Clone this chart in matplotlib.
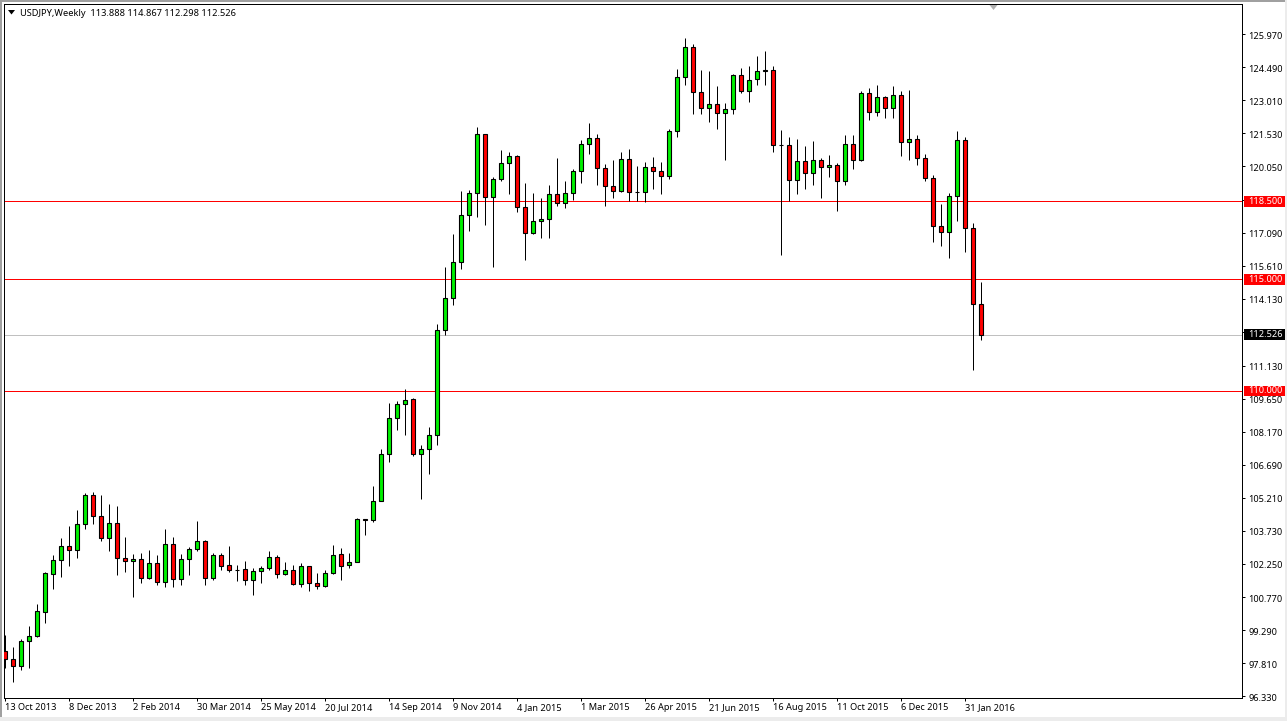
import matplotlib
matplotlib.use("Agg")
import matplotlib.pyplot as plt
from matplotlib.patches import Rectangle
from matplotlib.transforms import ScaledTranslation

W, H = 1287, 721

# weekly USDJPY candles
opens = [98.35, 97.99, 97.66, 98.80, 99.02, 100.12, 101.82, 102.42, 103.05, 102.87,
         104.03, 105.33, 104.39, 103.41, 104.08, 102.51, 102.38, 102.47, 101.62, 102.29,
         101.44, 103.14, 101.57, 102.47, 102.91, 103.27, 101.62, 102.65, 102.20, 102.00,
         102.02, 101.53, 101.93, 102.06, 102.56, 101.80, 101.97, 101.35, 102.15, 101.39,
         101.26, 101.84, 102.69, 102.20, 102.33, 104.26, 104.21, 105.07, 107.17, 108.78,
         109.41, 109.63, 107.17, 107.39, 108.02, 112.72, 114.15, 115.77, 117.87, 118.86,
         121.50, 118.68, 119.48, 120.20, 120.51, 118.23, 117.07, 117.60, 117.69, 118.81,
         118.41, 118.86, 119.84, 121.05, 121.32, 119.98, 119.17, 118.95, 120.38, 118.90,
         118.90, 120.02, 119.84, 119.62, 121.63, 124.05, 125.39, 123.38, 122.66, 122.84,
         122.44, 122.62, 124.14, 123.42, 123.95, 124.32, 124.36, 121.01, 121.01, 119.44,
         120.29, 119.74, 120.33, 120.02, 120.11, 119.39, 121.05, 120.33, 123.33, 122.48,
         123.16, 122.66, 123.24, 121.14, 121.27, 120.42, 119.53, 117.38, 117.11, 118.72,
         121.23, 117.29, 113.888]
highs = [99.08, 98.54, 98.88, 99.48, 100.47, 101.87, 102.65, 103.42, 103.96, 104.68,
         105.42, 105.47, 105.35, 104.94, 104.85, 103.47, 102.69, 102.75, 102.88, 102.66,
         103.80, 103.47, 102.69, 103.00, 104.18, 103.32, 102.74, 102.74, 103.06, 102.20,
         102.38, 102.06, 102.15, 102.84, 102.65, 102.35, 102.20, 102.29, 102.15, 101.84,
         101.97, 103.09, 102.96, 102.75, 104.32, 104.26, 105.75, 107.39, 109.45, 109.56,
         110.08, 109.68, 107.57, 108.38, 112.99, 115.56, 117.04, 118.96, 119.01, 121.83,
         121.50, 119.57, 120.78, 120.69, 120.57, 119.32, 118.87, 118.63, 119.21, 120.44,
         119.41, 119.93, 121.23, 122.01, 121.50, 120.16, 120.35, 120.69, 120.84, 120.08,
         120.24, 120.48, 120.26, 121.72, 124.41, 125.80, 125.53, 124.38, 124.32, 123.66,
         122.89, 124.18, 124.45, 124.54, 124.99, 125.21, 124.54, 121.69, 121.36, 121.29,
         120.98, 121.18, 120.42, 120.56, 120.20, 121.45, 121.45, 123.42, 123.56, 123.69,
         123.21, 123.65, 123.42, 123.47, 121.45, 120.60, 119.66, 118.36, 118.86, 121.63,
         121.36, 117.51, 114.867]
lows = [97.57, 96.97, 97.48, 97.60, 98.97, 99.59, 101.15, 101.65, 102.14, 102.50,
        103.80, 104.06, 103.26, 102.85, 101.74, 101.87, 100.75, 101.42, 101.56, 101.30,
        101.21, 101.24, 101.30, 101.74, 102.81, 101.33, 101.53, 101.97, 101.87, 101.47,
        101.33, 100.84, 101.42, 101.96, 101.60, 101.75, 101.30, 101.24, 101.06, 101.11,
        101.21, 101.78, 101.51, 102.05, 102.33, 103.56, 104.11, 105.05, 106.80, 108.23,
        108.01, 107.07, 105.18, 106.26, 107.60, 112.51, 113.83, 115.44, 117.18, 117.81,
        117.41, 115.53, 119.42, 118.84, 117.99, 115.84, 117.01, 116.83, 116.83, 118.30,
        118.21, 118.57, 119.33, 120.59, 119.24, 118.30, 118.66, 118.89, 118.50, 118.50,
        118.44, 119.02, 118.84, 119.47, 121.39, 123.68, 122.42, 122.38, 122.02, 121.71,
        120.36, 122.42, 123.36, 122.96, 123.72, 123.72, 120.68, 116.07, 118.50, 118.80,
        119.02, 119.20, 118.62, 119.60, 118.04, 119.20, 119.92, 120.29, 122.11, 122.33,
        122.20, 122.24, 120.54, 120.32, 120.10, 119.42, 116.66, 116.47, 115.93, 117.63,
        116.24, 110.94, 112.298]
closes = [97.99, 97.66, 98.80, 99.02, 100.14, 101.84, 102.42, 103.05, 102.87, 104.03,
          105.33, 104.39, 103.41, 104.08, 102.51, 102.38, 102.47, 101.62, 102.29, 101.44,
          103.14, 101.57, 102.47, 102.91, 103.27, 101.62, 102.65, 102.15, 101.97, 101.97,
          101.53, 101.93, 102.06, 102.56, 101.80, 101.97, 101.35, 102.15, 101.39, 101.26,
          101.84, 102.65, 102.15, 102.33, 104.26, 104.20, 105.06, 107.17, 108.78, 109.41,
          109.59, 107.17, 107.39, 108.02, 112.72, 114.15, 115.77, 117.87, 118.86, 121.50,
          118.68, 119.48, 120.20, 120.51, 118.23, 117.07, 117.60, 117.69, 118.81, 118.41,
          118.86, 119.84, 121.05, 121.32, 119.98, 119.17, 118.95, 120.38, 118.90, 118.89,
          120.02, 119.84, 119.62, 121.63, 124.05, 125.39, 123.38, 122.66, 122.84, 122.44,
          122.62, 124.14, 123.42, 123.92, 124.32, 124.35, 120.99, 120.99, 119.44, 120.29,
          119.74, 120.33, 120.02, 120.11, 119.39, 121.05, 120.33, 123.33, 122.48, 123.16,
          122.66, 123.24, 121.14, 121.27, 120.42, 119.53, 117.38, 117.11, 118.72, 121.23,
          117.29, 113.888, 112.526]

date_labels = ["13 Oct 2013", "8 Dec 2013", "2 Feb 2014", "30 Mar 2014", "25 May 2014",
               "20 Jul 2014", "14 Sep 2014", "9 Nov 2014", "4 Jan 2015", "1 Mar 2015",
               "26 Apr 2015", "21 Jun 2015", "16 Aug 2015", "11 Oct 2015", "6 Dec 2015",
               "31 Jan 2016"]
price_ticks = [125.97, 124.49, 123.01, 121.53, 120.05, 118.57, 117.09, 115.61, 114.13,
               112.65, 111.13, 109.65, 108.17, 106.69, 105.21, 103.73, 102.25, 100.77,
               99.29, 97.81, 96.33]
level_lines = [118.5, 115.0, 110.0]
last_price = 112.526

FONT = "Noto Sans"
FS = 6.6
px = 0.72  # one pixel in points at dpi 100

fig = plt.figure(figsize=(W / 100, H / 100), dpi=100, facecolor="white")

# plot frame, placed in pixels
left, right, top, bottom = 4.3, 1242.3, 4.3, 698.0
ax = fig.add_axes([left / W, 1 - bottom / H, (right - left) / W, (bottom - top) / H])
ax.set_xlim(-0.125, 154.625)
ax.set_ylim(96.248, 127.313)

xs = list(range(len(opens)))

for level in level_lines:
    ax.axhline(level, color="#ff0000", lw=px, zorder=1)
ax.axhline(last_price, color="#c0c0c0", lw=px, zorder=1)

# candles
ax.vlines(xs, lows, highs, color="black", lw=px, zorder=2)
body_colors = ["#00f000" if c >= o else "#ff0000" for o, c in zip(opens, closes)]
body_bottom = [min(o, c) for o, c in zip(opens, closes)]
body_height = [abs(o - c) for o, c in zip(opens, closes)]
ax.bar(xs, body_height, bottom=body_bottom, width=0.46, color=body_colors,
       edgecolor="black", linewidth=1.1 * px, zorder=3)

# axes
for side in ax.spines:
    ax.spines[side].set_linewidth(px)
ax.yaxis.tick_right()
ax.set_yticks(price_ticks)
ax.set_yticklabels(["%.3f" % p for p in price_ticks], fontsize=FS, family=FONT)
ax.set_xticks(xs[::8])
ax.set_xticklabels(date_labels, fontsize=FS, family=FONT, ha="left")
ax.tick_params(axis="both", length=3 * px, width=px, color="black", labelcolor="black")
ax.tick_params(axis="y", pad=2.3)
ax.tick_params(axis="x", pad=1.5)

# scale labels sit a pixel lower than the default centring
nudge = ScaledTranslation(0, -1 / 100, fig.dpi_scale_trans)
for label in ax.get_yticklabels():
    label.set_transform(label.get_transform() + nudge)

# price labels on the scale
yaxis_tf = ax.get_yaxis_transform()
def price_tag(price, fc):
    ax.add_patch(Rectangle((1.0015, price - 0.25), 0.0331, 0.49, transform=yaxis_tf,
                           fc=fc, ec="none", clip_on=False, zorder=5))
    ax.text(1.0048, price, "%.3f" % price, transform=yaxis_tf, color="white", fontsize=FS,
            family=FONT, va="center", ha="left", clip_on=False, zorder=6)

for level in level_lines:
    price_tag(level, "#ff0000")
price_tag(last_price, "black")

# header
fig.text(20 / W, 1 - 13 / H, "USDJPY,Weekly  113.888 114.867 112.298 112.526",
         fontsize=6.66, family=FONT, color="black", va="center", ha="left")
fig.patches.append(plt.Polygon([(8 / W, 1 - 10 / H), (15 / W, 1 - 10 / H), (11.5 / W, 1 - 14.5 / H)],
                               transform=fig.transFigure, fc="black", ec="none"))
# chart shift marker
fig.patches.append(plt.Polygon([(989.5 / W, 1 - 5 / H), (997.5 / W, 1 - 5 / H), (993.5 / W, 1 - 10 / H)],
                               transform=fig.transFigure, fc="#b0b0b0", ec="none"))

# window edges
for x0, y0, w, h, c in [(0, 0, W, 2, "#a0a0a0"), (0, 0, 1.5, H, "#a0a0a0"),
                        (1285, 0, 2, H, "#ececec"), (0, 717, W, 4, "#ececec")]:
    fig.patches.append(Rectangle((x0 / W, 1 - (y0 + h) / H), w / W, h / H,
                                 transform=fig.transFigure, fc=c, ec="none"))

fig.savefig("out.png", dpi=100)
